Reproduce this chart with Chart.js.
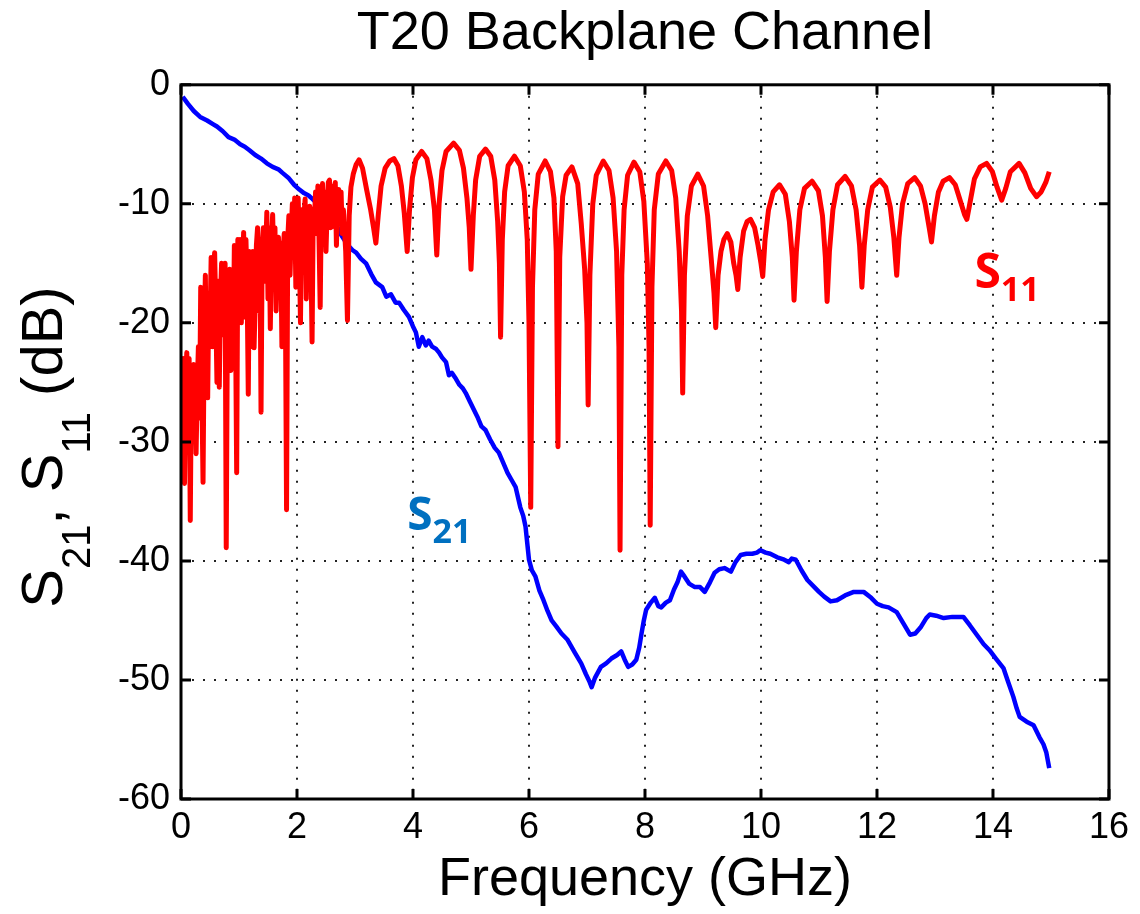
<!DOCTYPE html>
<html>
<head>
<meta charset="utf-8">
<title>T20 Backplane Channel</title>
<script src="https://cdn.jsdelivr.net/npm/chart.js@4.4.0/dist/chart.umd.min.js"></script>
<style>
  html, body { margin: 0; padding: 0; background: #fff; }
</style>
</head>
<body>
<canvas id="myChart" width="1140" height="914"></canvas>
<script>
// axis ticks
var xTicks = [0, 2, 4, 6, 8, 10, 12, 14, 16];
var yTicks = [0, -10, -20, -30, -40, -50, -60];

// S21 (insertion loss)
var s21Freq = [0.03, 0.12, 0.22, 0.33, 0.45, 0.55, 0.62, 0.72, 0.82, 0.92, 1.02, 1.10, 1.18, 1.28, 1.38, 1.48, 1.58, 1.68, 1.75, 1.85,
  1.95, 2.04, 2.12, 2.20, 2.27, 2.33, 2.42, 2.52, 2.61, 2.68, 2.76, 2.84, 2.90, 2.96, 3.02, 3.10, 3.19, 3.28, 3.36, 3.47,
  3.54, 3.62, 3.70, 3.76, 3.84, 3.93, 4.00, 4.05, 4.10, 4.16, 4.22, 4.27, 4.33, 4.40, 4.45, 4.50, 4.57, 4.62, 4.67, 4.74,
  4.80, 4.86, 4.91, 4.98, 5.05, 5.12, 5.18, 5.25, 5.33, 5.41, 5.48, 5.56, 5.63, 5.70, 5.77, 5.85, 5.90, 5.94, 6.00, 6.05,
  6.11, 6.18, 6.25, 6.32, 6.39, 6.47, 6.56, 6.66, 6.79, 6.90, 6.98, 7.04, 7.08, 7.14, 7.24, 7.33, 7.42, 7.52, 7.59, 7.65,
  7.71, 7.78, 7.85, 7.90, 7.94, 7.98, 8.02, 8.10, 8.17, 8.23, 8.28, 8.36, 8.43, 8.50, 8.56, 8.62, 8.68, 8.76, 8.86, 8.95,
  9.03, 9.12, 9.20, 9.28, 9.37, 9.48, 9.56, 9.65, 9.75, 9.85, 9.93, 9.99, 10.08, 10.16, 10.28, 10.40, 10.48, 10.53, 10.60, 10.70,
  10.80, 10.92, 11.00, 11.09, 11.20, 11.31, 11.45, 11.60, 11.77, 11.90, 12.00, 12.10, 12.20, 12.34, 12.45, 12.57, 12.66, 12.75, 12.85, 12.91,
  13.02, 13.15, 13.30, 13.49, 13.60, 13.72, 13.84, 13.94, 14.05, 14.18, 14.25, 14.35, 14.41, 14.46, 14.58, 14.70, 14.80, 14.87, 14.92, 14.97];
var s21dB = [-1.0, -1.6, -2.2, -2.7, -3.0, -3.3, -3.5, -3.9, -4.4, -4.6, -5.0, -5.2, -5.5, -5.9, -6.2, -6.6, -6.9, -7.1, -7.4, -7.8,
  -8.4, -8.8, -9.1, -9.3, -9.6, -9.9, -10.3, -11.0, -11.6, -11.8, -12.6, -13.2, -13.6, -13.9, -14.1, -14.6, -15.0, -15.9, -16.6, -17.0,
  -17.8, -17.6, -18.3, -18.3, -18.9, -19.5, -20.3, -20.8, -22.0, -21.2, -21.9, -21.5, -22.0, -22.2, -22.5, -22.9, -23.3, -24.4, -24.2, -24.7,
  -25.2, -25.5, -25.9, -26.6, -27.3, -28.0, -28.7, -29.0, -29.8, -30.5, -30.9, -31.8, -32.6, -33.2, -33.8, -35.5, -36.2, -37.1, -39.9, -40.8,
  -41.3, -42.5, -43.3, -44.2, -45.0, -45.5, -46.1, -46.6, -47.7, -48.6, -49.5, -50.1, -50.6, -49.8, -48.9, -48.6, -48.2, -47.9, -47.6, -48.3,
  -48.9, -48.7, -48.3, -47.3, -46.1, -45.0, -44.1, -43.5, -43.1, -43.8, -43.9, -43.5, -43.3, -42.4, -41.8, -40.9, -41.3, -41.9, -42.2, -42.2,
  -42.6, -41.8, -41.0, -40.7, -40.6, -40.9, -40.1, -39.5, -39.4, -39.4, -39.3, -39.1, -39.3, -39.4, -39.7, -39.9, -40.1, -39.8, -39.9, -40.8,
  -41.6, -42.2, -42.6, -43.0, -43.4, -43.3, -42.9, -42.6, -42.6, -43.1, -43.6, -43.8, -43.9, -44.3, -45.2, -46.2, -46.1, -45.6, -44.8, -44.5,
  -44.6, -44.8, -44.7, -44.7, -45.4, -46.2, -47.0, -47.5, -48.2, -49.0, -50.0, -51.4, -52.4, -53.1, -53.5, -53.8, -54.8, -55.4, -56.1, -57.4];

// S11 (return loss)
var s11Freq = [0.00, 0.02, 0.04, 0.06, 0.08, 0.10, 0.12, 0.14, 0.16, 0.18, 0.20, 0.22, 0.24, 0.26, 0.28, 0.30, 0.32, 0.34, 0.36, 0.38,
  0.40, 0.42, 0.44, 0.46, 0.48, 0.50, 0.52, 0.54, 0.56, 0.58, 0.60, 0.62, 0.64, 0.66, 0.68, 0.70, 0.72, 0.74, 0.76, 0.78,
  0.80, 0.82, 0.84, 0.86, 0.88, 0.90, 0.92, 0.94, 0.96, 0.98, 1.00, 1.02, 1.04, 1.06, 1.08, 1.10, 1.12, 1.14, 1.16, 1.18,
  1.20, 1.22, 1.24, 1.26, 1.28, 1.30, 1.32, 1.34, 1.36, 1.38, 1.40, 1.42, 1.44, 1.46, 1.48, 1.50, 1.52, 1.54, 1.56, 1.58,
  1.60, 1.62, 1.64, 1.66, 1.68, 1.70, 1.72, 1.74, 1.76, 1.78, 1.80, 1.82, 1.84, 1.86, 1.88, 1.90, 1.92, 1.94, 1.96, 1.98,
  2.00, 2.02, 2.04, 2.06, 2.08, 2.10, 2.12, 2.14, 2.16, 2.18, 2.20, 2.22, 2.24, 2.26, 2.28, 2.30, 2.32, 2.34, 2.36, 2.38,
  2.40, 2.42, 2.44, 2.46, 2.48, 2.50, 2.52, 2.54, 2.56, 2.58, 2.60, 2.62, 2.64, 2.66, 2.68, 2.70, 2.72, 2.74, 2.76, 2.78,
  2.80, 2.84, 2.87, 2.90, 2.93, 2.97, 3.02, 3.07, 3.13, 3.20, 3.27, 3.32, 3.36, 3.40, 3.45, 3.52, 3.60, 3.67, 3.74, 3.80,
  3.85, 3.90, 3.94, 3.99, 4.05, 4.15, 4.24, 4.31, 4.37, 4.41, 4.45, 4.50, 4.57, 4.70, 4.80, 4.87, 4.93, 4.97, 5.00, 5.04,
  5.08, 5.15, 5.25, 5.34, 5.41, 5.46, 5.49, 5.51, 5.54, 5.58, 5.64, 5.75, 5.85, 5.92, 5.97, 6.00, 6.03, 6.06, 6.10, 6.16,
  6.28, 6.37, 6.43, 6.47, 6.50, 6.53, 6.58, 6.64, 6.74, 6.84, 6.90, 6.96, 7.00, 7.02, 7.05, 7.10, 7.16, 7.28, 7.38, 7.45,
  7.51, 7.55, 7.57, 7.60, 7.64, 7.70, 7.81, 7.91, 7.98, 8.04, 8.07, 8.09, 8.12, 8.16, 8.23, 8.36, 8.46, 8.53, 8.59, 8.63,
  8.65, 8.68, 8.73, 8.80, 8.91, 9.01, 9.08, 9.14, 9.19, 9.22, 9.26, 9.31, 9.36, 9.42, 9.48, 9.53, 9.57, 9.60, 9.64, 9.70,
  9.76, 9.82, 9.89, 9.95, 10.00, 10.03, 10.07, 10.13, 10.21, 10.32, 10.42, 10.49, 10.54, 10.57, 10.61, 10.67, 10.75, 10.88, 10.99, 11.06,
  11.11, 11.14, 11.18, 11.24, 11.32, 11.45, 11.56, 11.64, 11.70, 11.74, 11.78, 11.84, 11.92, 12.05, 12.15, 12.23, 12.29, 12.34, 12.38, 12.44,
  12.53, 12.65, 12.75, 12.83, 12.90, 12.94, 12.99, 13.06, 13.14, 13.25, 13.35, 13.44, 13.51, 13.55, 13.60, 13.68, 13.78, 13.89, 13.99, 14.07,
  14.15, 14.22, 14.30, 14.45, 14.55, 14.65, 14.75, 14.83, 14.91, 14.97];
var s11dB = [-25.0, -32.0, -23.0, -33.5, -24.5, -22.5, -29.0, -23.0, -36.6, -24.0, -27.5, -23.5, -26.0, -31.0, -25.5, -22.0, -28.0, -17.0, -26.0, -33.4,
  -21.0, -16.0, -24.5, -26.3, -17.5, -20.5, -14.5, -22.0, -15.5, -14.1, -19.0, -25.0, -16.5, -25.4, -18.0, -15.0, -21.0, -16.0, -15.0, -38.9,
  -20.0, -17.0, -15.5, -24.0, -18.5, -22.5, -13.5, -20.0, -32.6, -13.0, -17.5, -13.0, -20.0, -15.5, -12.4, -19.5, -13.0, -17.0, -26.0, -14.0,
  -22.0, -16.5, -14.0, -22.1, -18.0, -13.5, -12.0, -19.0, -13.0, -27.5, -13.5, -12.0, -16.5, -14.0, -10.7, -18.0, -12.0, -20.5, -13.5, -10.9,
  -15.0, -12.0, -19.0, -14.5, -12.8, -17.5, -13.3, -22.0, -14.0, -12.5, -18.0, -35.7, -13.0, -11.0, -16.0, -12.5, -10.0, -14.0, -9.5, -17.0,
  -11.5, -9.5, -13.5, -20.0, -10.5, -14.0, -11.0, -9.6, -18.0, -11.0, -13.0, -10.2, -14.5, -21.6, -10.5, -11.5, -9.0, -12.5, -8.5, -13.0,
  -18.7, -10.0, -8.3, -11.0, -9.0, -14.0, -10.5, -8.2, -8.0, -12.0, -8.5, -11.9, -9.5, -8.2, -13.5, -10.0, -8.8, -11.0, -9.0, -12.5,
  -10.5, -14.0, -19.8, -11.0, -8.6, -7.5, -6.7, -6.3, -7.0, -8.8, -10.5, -12.0, -13.3, -11.0, -8.5, -7.0, -6.4, -6.2, -6.8, -8.5,
  -10.8, -14.0, -10.5, -7.8, -6.3, -5.6, -6.2, -8.0, -10.5, -14.3, -10.0, -7.2, -5.6, -4.9, -5.5, -7.0, -9.5, -12.0, -15.5, -11.0,
  -8.0, -6.0, -5.4, -6.0, -8.0, -11.5, -15.0, -21.2, -13.0, -9.0, -6.8, -6.0, -6.8, -9.0, -13.0, -20.0, -35.5, -17.0, -10.5, -7.5,
  -6.4, -7.3, -9.5, -14.0, -30.4, -14.5, -9.4, -7.6, -6.9, -8.3, -11.6, -15.5, -20.0, -26.9, -16.0, -10.0, -7.6, -6.4, -7.2, -9.5,
  -14.0, -22.0, -39.1, -16.0, -10.5, -7.6, -6.5, -7.3, -9.8, -15.0, -22.0, -37.0, -17.0, -10.5, -7.5, -6.4, -7.2, -9.5, -14.0, -19.0,
  -25.9, -16.0, -11.0, -8.5, -7.5, -8.5, -11.0, -14.5, -17.5, -20.4, -16.0, -14.0, -13.0, -12.5, -13.2, -15.0, -16.0, -17.2, -14.5, -12.3,
  -11.5, -11.3, -12.0, -13.5, -15.0, -16.1, -13.0, -10.5, -9.0, -8.4, -9.2, -11.5, -14.5, -18.1, -14.0, -10.5, -8.7, -8.1, -8.9, -11.0,
  -14.5, -18.2, -14.0, -10.5, -8.4, -7.7, -8.5, -10.5, -13.5, -17.0, -13.5, -10.5, -8.6, -8.0, -8.6, -10.3, -12.8, -16.0, -12.8, -10.0,
  -8.3, -7.8, -8.5, -10.0, -12.0, -13.2, -11.0, -9.0, -8.1, -7.8, -8.4, -9.8, -10.9, -11.3, -10.0, -7.9, -6.9, -6.6, -7.3, -8.6,
  -9.7, -8.7, -7.3, -6.6, -7.4, -8.7, -9.4, -9.0, -8.2, -7.3];

var fontFamily = '"Liberation Sans", Arial, Helvetica, sans-serif';

function toPoints(xs, ys) {
    return xs.map(function (f, i) { return { x: f, y: ys[i] }; });
}

// box round the axes with inward ticks, like the original plot
var framePlugin = {
    id: 'frame',
    afterDatasetsDraw: function (chart) {
        var ctx = chart.ctx;
        var a = chart.chartArea;
        var xs = chart.scales.x;
        var ys = chart.scales.y;
        ctx.save();
        ctx.strokeStyle = '#000';
        ctx.lineWidth = 3;
        ctx.beginPath();
        xTicks.forEach(function (v) {
            var px = xs.getPixelForValue(v);
            ctx.moveTo(px, a.bottom); ctx.lineTo(px, a.bottom - 10);
            ctx.moveTo(px, a.top); ctx.lineTo(px, a.top + 10);
        });
        yTicks.forEach(function (v) {
            var py = ys.getPixelForValue(v);
            ctx.moveTo(a.left, py); ctx.lineTo(a.left + 10, py);
            ctx.moveTo(a.right, py); ctx.lineTo(a.right - 10, py);
        });
        ctx.stroke();
        ctx.strokeRect(a.left, a.top, a.right - a.left, a.bottom - a.top);
        ctx.restore();
    }
};

// draws "S" + subscript pieces in a row
function drawSubText(ctx, parts, bigFont, smallFont, subDrop, centered) {
    var w = 0;
    parts.forEach(function (p) {
        ctx.font = p.sub ? smallFont : bigFont;
        p.w = ctx.measureText(p.t).width;
        w += p.w;
    });
    var cx = centered ? -w / 2 : 0;
    parts.forEach(function (p) {
        ctx.font = p.sub ? smallFont : bigFont;
        ctx.fillText(p.t, cx, p.sub ? subDrop : 0);
        cx += p.w;
    });
}

var labelPlugin = {
    id: 'labels',
    afterDraw: function (chart) {
        var ctx = chart.ctx;
        var xs = chart.scales.x;
        var ys = chart.scales.y;
        ctx.save();
        ctx.textBaseline = 'alphabetic';
        ctx.textAlign = 'left';

        // y axis title with subscripts
        ctx.save();
        ctx.fillStyle = '#000';
        ctx.translate(62, 447);
        ctx.rotate(-Math.PI / 2);
        drawSubText(ctx, [
            { t: 'S' }, { t: '21', sub: true }, { t: ', S' }, { t: '11', sub: true }, { t: ' (dB)' }
        ], '58px ' + fontFamily, '40px ' + fontFamily, 28, true);
        ctx.restore();

        // curve names
        ctx.save();
        ctx.fillStyle = '#0070C0';
        ctx.translate(xs.getPixelForValue(3.9), ys.getPixelForValue(-37.4));
        drawSubText(ctx, [{ t: 'S' }, { t: '21', sub: true }],
            'bold 46px "Noto Sans", "Open Sans", sans-serif', 'bold 34px "Noto Sans", "Open Sans", sans-serif', 13, false);
        ctx.restore();

        ctx.save();
        ctx.fillStyle = '#FF0000';
        ctx.translate(xs.getPixelForValue(13.68), ys.getPixelForValue(-17.06));
        drawSubText(ctx, [{ t: 'S' }, { t: '11', sub: true }],
            'bold 48px "Noto Sans", "Open Sans", sans-serif', 'bold 34px "Noto Sans", "Open Sans", sans-serif', 13, false);
        ctx.restore();

        ctx.restore();
    }
};

var ctx = document.getElementById('myChart');

new Chart(ctx, {
    type: 'line',
    data: {
        datasets: [{
            label: 'S11',
            data: toPoints(s11Freq, s11dB),
            borderColor: '#FF0000',
            borderWidth: 5,
            borderJoinStyle: 'round',
            pointRadius: 0,
            tension: 0,
            fill: false
        }, {
            label: 'S21',
            data: toPoints(s21Freq, s21dB),
            borderColor: '#0000FF',
            borderWidth: 4.5,
            borderJoinStyle: 'round',
            pointRadius: 0,
            tension: 0,
            fill: false
        }]
    },
    options: {
        responsive: false,
        animation: false,
        devicePixelRatio: 1,
        layout: { padding: { left: 0, right: 27, top: 0, bottom: 0 } },
        plugins: {
            legend: { display: false },
            tooltip: { enabled: false },
            title: {
                display: true,
                fullSize: false,
                text: 'T20 Backplane Channel',
                color: '#000',
                font: { family: fontFamily, size: 54, weight: 'normal', lineHeight: 1.2 },
                padding: { top: 2, bottom: 18 }
            }
        },
        scales: {
            x: {
                type: 'linear',
                min: 0,
                max: 16,
                afterBuildTicks: function (s) { s.ticks = xTicks.map(function (v) { return { value: v }; }); },
                afterFit: function (s) { s.height = 115; },
                ticks: {
                    color: '#000',
                    padding: 11,
                    maxRotation: 0,
                    font: { family: fontFamily, size: 36, lineHeight: 1 }
                },
                grid: { color: '#222', lineWidth: 2, drawTicks: false },
                border: { display: false, dash: [2, 9] },
                title: {
                    display: true,
                    text: 'Frequency (GHz)',
                    color: '#000',
                    font: { family: fontFamily, size: 54, lineHeight: 1 },
                    padding: { top: 0, bottom: 7 }
                }
            },
            y: {
                min: -60,
                max: 0,
                afterBuildTicks: function (s) { s.ticks = yTicks.map(function (v) { return { value: v }; }); },
                afterFit: function (s) { s.width = 181; },
                ticks: {
                    color: '#000',
                    padding: 11,
                    font: { family: fontFamily, size: 36, lineHeight: 1 }
                },
                grid: { color: '#222', lineWidth: 2, drawTicks: false },
                border: { display: false, dash: [2, 9] }
            }
        }
    },
    plugins: [framePlugin, labelPlugin]
});
</script>
</body>
</html>
